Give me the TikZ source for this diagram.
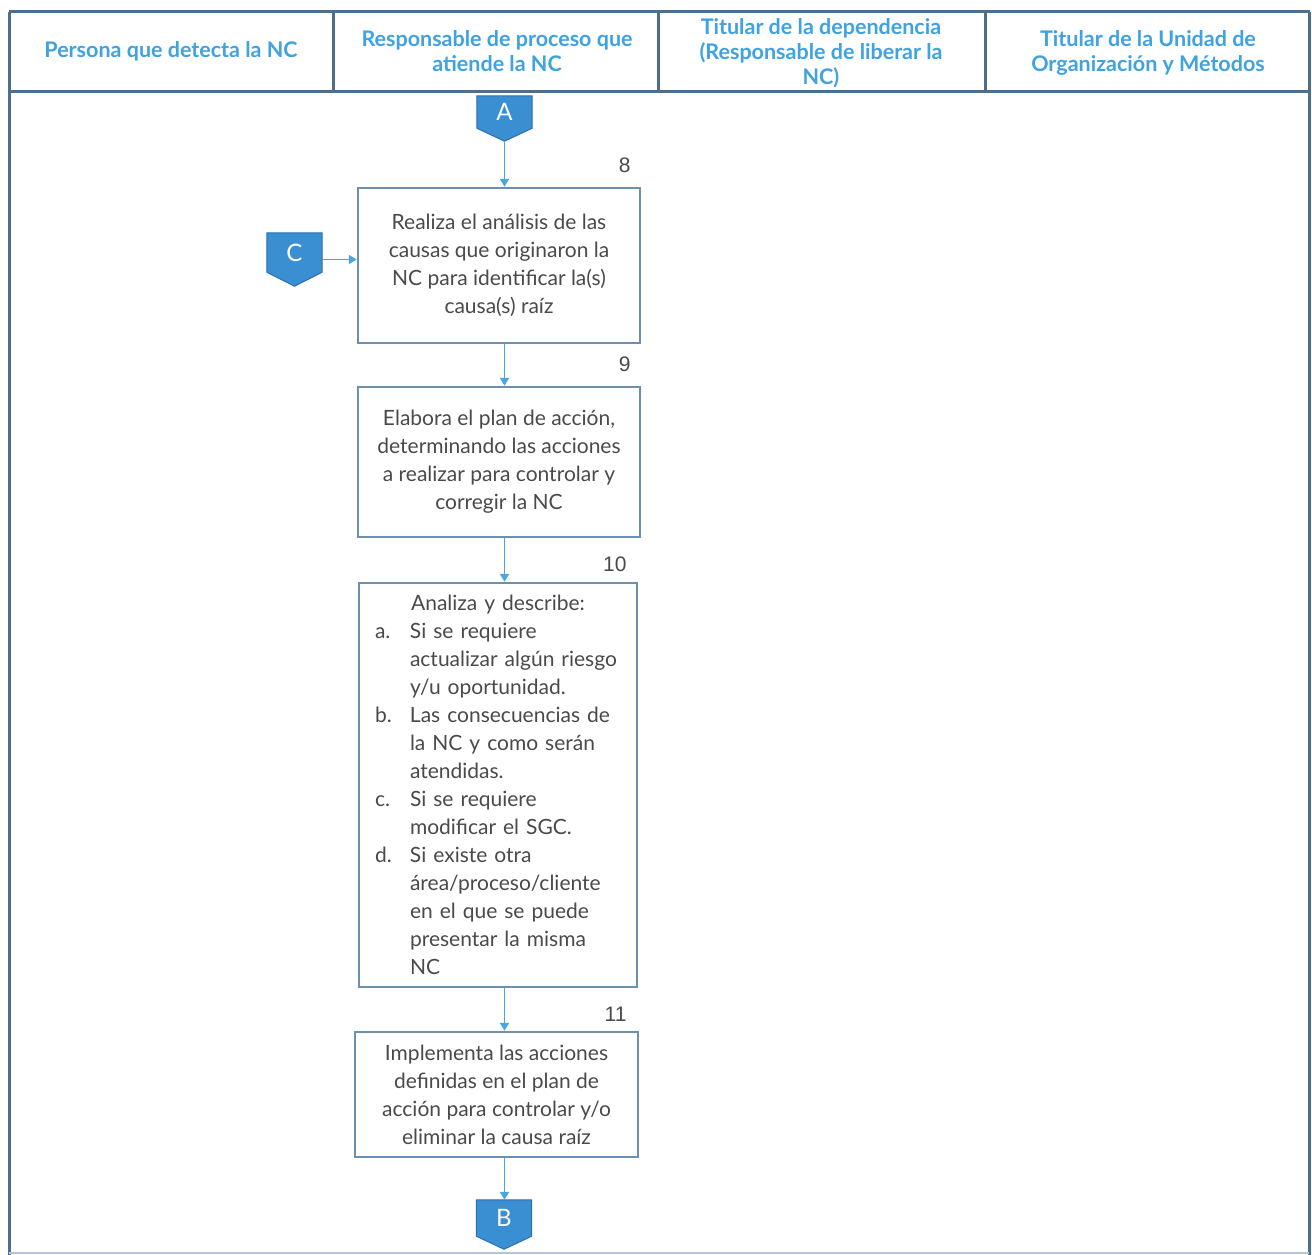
\documentclass[tikz,border=0pt]{standalone}
\usepackage{fontspec}
\setmainfont{Lato}
\newfontfamily\numfont{Liberation Sans}
\usetikzlibrary{arrows.meta,calc,backgrounds}
\definecolor{frameline}{HTML}{4E6F8C}
\definecolor{boxline}{HTML}{6C90AE}
\definecolor{headblue}{HTML}{3FA2E2}
\definecolor{flowblue}{HTML}{4AA6DE}
\definecolor{bodytext}{HTML}{4A4A4A}
\definecolor{connfill}{HTML}{3A8FD3}
\definecolor{connedge}{HTML}{2B6FAE}
\tikzset{
  frame/.style={draw=frameline, line width=3pt},
  headtext/.style={text=headblue, font=\fontsize{21.5}{25}\selectfont\bfseries, align=center},
  stepbox/.style={draw=boxline, line width=2.5pt, fill=white, text=bodytext,
    font=\fontsize{21}{28}\selectfont, align=center, inner sep=0pt},
  stepnum/.style={text=bodytext, font=\numfont\fontsize{21}{24}\selectfont, anchor=east},
  connbox/.style={minimum width=55pt, inner sep=0pt, text=white,
    font=\fontsize{24}{26}\selectfont},
  flow/.style={draw=flowblue, line width=1.8pt, -{Triangle[width=9pt,length=8pt]}},
}
\begin{document}
\begin{tikzpicture}[x=1pt, y=-1pt]
\useasboundingbox (0,0) rectangle (1312,1255);

% swimlane frame and header
\draw[frame] (9,12) -- (1310,12);
\draw[frame] (9,91) -- (1310,91);
\draw[frame] (9,12) -- (9,1255);
\draw[frame] (1309,12) -- (1309,1255);
\draw[frame] (333,12) -- (333,91);
\draw[frame] (658,12) -- (658,91);
\draw[frame] (985,12) -- (985,91);
\draw[draw=boxline!50, line width=2pt] (9,1253) -- (1309,1253);

\node[headtext] (h1) at (171,51) {Persona que detecta la NC};
\node[headtext] (h2) at (497,51) {Responsable de proceso que\\atiende la NC};
\node[headtext] (h3) at (821,53) {Titular de la dependencia\\(Responsable de liberar la\\NC)};
\node[headtext] (h4) at (1148,53) {Titular de la Unidad de\\Organización y Métodos};

% off-page connectors
\node[connbox, minimum height=32pt] (A) at (504.5,112) {A};
\coordinate (Atip) at ($(A.south)+(0,13)$);
\node[connbox, minimum height=39pt] (C) at (294.5,252.5) {C};
\coordinate (Ctip) at ($(C.south)+(0,14)$);
\node[connbox, minimum height=36pt] (B) at (504,1218) {B};
\coordinate (Btip) at ($(B.south)+(0,13)$);
\begin{pgfonlayer}{background}
  \fill[white] (0,0) rectangle (1312,1255);
  \foreach \c/\t in {A/Atip, C/Ctip, B/Btip}
    \filldraw[fill=connfill, draw=connedge, line width=1pt]
      (\c.north west) -- (\c.north east) -- (\c.south east) -- (\t) -- (\c.south west) -- cycle;
\end{pgfonlayer}

% process steps
\node[stepbox, minimum width=282pt, minimum height=155pt] (b8) at (499,265.5)
  {Realiza el análisis de las\\causas que originaron la\\NC para identificar la(s)\\causa(s) raíz};
\node[stepbox, minimum width=282pt, minimum height=150pt] (b9) at (499,462)
  {Elabora el plan de acción,\\determinando las acciones\\a realizar para controlar y\\corregir la NC};
\node[stepbox, minimum width=278pt, minimum height=404pt, text width=246pt, align=left] (b10) at (498,785)
  {\makebox[\linewidth][c]{Analiza y describe:}\par
   \hangindent=35pt\hangafter=1\makebox[35pt][l]{a.}Si se requiere\newline actualizar algún riesgo\newline y/u oportunidad.\par
   \hangindent=35pt\hangafter=1\makebox[35pt][l]{b.}Las consecuencias de\newline la NC y como serán\newline atendidas.\par
   \hangindent=35pt\hangafter=1\makebox[35pt][l]{c.}Si se requiere\newline modificar el SGC.\par
   \hangindent=35pt\hangafter=1\makebox[35pt][l]{d.}Si existe otra\newline área/proceso/cliente\newline en el que se puede\newline presentar la misma\newline NC\par};
\node[stepbox, minimum width=283pt, minimum height=125pt] (b11) at (496.5,1094.5)
  {Implementa las acciones\\definidas en el plan de\\acción para controlar y/o\\eliminar la causa raíz};

% step numbers
\node[stepnum] (n8) at (634,165) {8};
\node[stepnum] (n9) at (634,364) {9};
\node[stepnum] (n10) at (630,564) {10};
\node[stepnum] (n11) at (630,1014) {11};

% connectors
\draw[flow] (Atip) -- (b8.north -| Atip);
\draw[flow] ([yshift=-7pt]C.east) -- ([yshift=-7pt]C.east -| b8.west);
\draw[flow] (b8.south -| Atip) -- (b9.north -| Atip);
\draw[flow] (b9.south -| Atip) -- (b10.north -| Atip);
\draw[flow] (b10.south -| Atip) -- (b11.north -| Atip);
\draw[flow] (b11.south -| Atip) -- (B.north -| Atip);
\end{tikzpicture}
\end{document}
